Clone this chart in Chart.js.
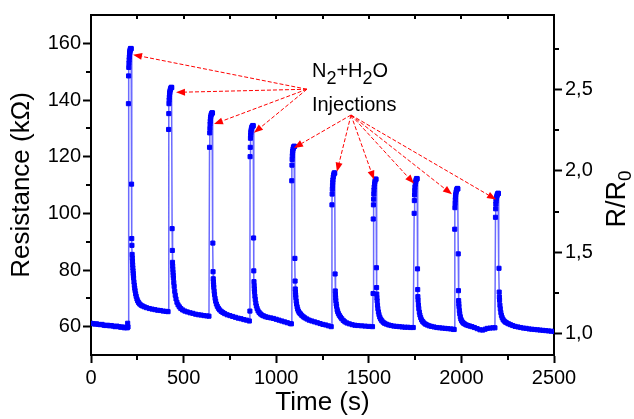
<!DOCTYPE html>
<html><head><meta charset="utf-8">
<script src="https://cdn.jsdelivr.net/npm/chart.js@4/dist/chart.umd.min.js"></script>
<style>html,body{margin:0;padding:0;background:#fff}#c{display:block}</style>
</head><body>
<canvas id="c" width="634" height="419"></canvas>
<script>
// ---- data: [time (s), resistance (kOhm)] ----
const cycle0 = [[0,61.2],[10,61.1],[20,60.9],[30,61.0],[40,60.8],[50,60.7],[60,60.8],[70,60.5],[80,60.4],[90,60.5],[100,60.3],[110,60.4],[120,60.2],[130,60.0],[140,60.2],[150,60.0],[160,59.8],[170,59.9],[180,59.6],[190,59.7],[196,59.6],[198,61.2],[200,59.9]];
const cycle1 = [[202,138.7],[203,148.5],[204,151.5],[205,153.0],[206,154.2],[207,155.2],[208,156.0],[209,156.6],[210,157.1],[211,157.5],[212,157.8],[213,158.0],[214,158.1],[215,158.2],[217,158.1],
  [219,110.3],[220,91.1],[221,88.7],[222,85.5],[223,84.2],[224,83.0],[225,81.8],[226,80.7],[227,79.7],[228,78.8],[229,78.0],[230,77.2],[232,75.8],[234,74.6],[236,73.6],[238,72.7],[241,71.6],[244,70.7],[248,69.8],[252,69.1],[257,68.5],[263,68.0],[270,67.6],[278,67.3],[288,67.0],[300,66.7],[315,66.4],[330,66.2],[345,66.0],[360,65.8],[375,65.7],[390,65.5],[405,65.4],[416,65.3]];
const cycle2 = [[419,129.6],[420,135.2],[421,138.7],[422,140.0],[423,141.0],[424,141.8],[425,142.5],[426,143.0],[428,143.6],[430,144.0],[432,144.3],[434,144.5],[436,144.4],
  [438,94.6],[439,86.9],[440,82.7],[441,81.4],[442,80.2],[443,79.1],[444,78.1],[445,77.2],[447,75.6],[449,74.2],[452,72.5],[455,71.1],[459,69.8],[464,68.6],[470,67.7],[477,67.0],[485,66.4],[495,65.9],[507,65.5],[520,65.2],[535,64.9],[550,64.7],[565,64.4],[580,64.2],[595,64.1],[610,63.9],[625,63.8],[637,63.7]];
const cycle3 = [[640,123.3],[641,128.4],[642,130.0],[643,131.5],[644,132.5],[645,133.3],[646,134.0],[648,134.6],[650,135.0],[652,135.3],[654,135.5],[656,135.4],
  [658,89.5],[659,79.4],[660,76.9],[661,75.8],[662,74.8],[663,73.9],[665,72.5],[667,71.3],[670,70.0],[673,69.0],[677,68.0],[682,67.2],[688,66.5],[695,65.9],[703,65.4],[712,65.0],[722,64.6],[735,64.2],[750,63.9],[765,63.6],[780,63.3],[795,63.0],[810,62.8],[825,62.5],[840,62.3],[855,62.0]];
const cycle4 = [[858,65.5],[859,120.0],[860,123.3],[861,126.5],[862,127.6],[863,128.5],[864,129.2],[866,129.8],[868,130.3],[870,130.6],[872,130.8],[874,131.0],[876,130.9],
  [878,91.3],[879,79.7],[880,75.9],[881,74.5],[882,73.3],[883,72.3],[885,70.8],[887,69.6],[890,68.3],[893,67.3],[897,66.4],[902,65.6],[908,65.0],[915,64.5],[923,64.1],[932,63.8],[943,63.5],[955,63.3],[970,63.1],[985,62.9],[1000,62.6],[1015,62.3],[1030,62.0],[1045,61.7],[1060,61.4],[1075,61.1]];
const cycle5 = [[1082,61.0],[1084,111.5],[1085,117.0],[1086,119.0],[1087,120.3],[1088,121.3],[1089,122.0],[1091,122.7],[1093,123.2],[1095,123.5],[1097,123.7],[1099,123.6],
  [1101,84.1],[1102,76.1],[1103,73.3],[1104,72.2],[1105,71.2],[1106,70.3],[1108,69.0],[1110,68.0],[1113,67.0],[1116,66.2],[1120,65.5],[1125,64.9],[1131,64.5],[1138,64.0],[1146,63.5],[1155,63.1],[1166,62.7],[1178,62.3],[1192,62.0],[1207,61.7],[1222,61.4],[1237,61.1],[1252,60.8],[1267,60.6],[1282,60.3],[1297,60.0]];
const cycle6 = [[1301,103.0],[1302,106.8],[1303,108.5],[1304,109.8],[1305,110.9],[1306,111.8],[1308,112.8],[1310,113.5],[1312,114.0],[1314,114.3],[1316,114.2],
  [1318,78.6],[1319,72.6],[1320,71.3],[1321,70.2],[1322,69.2],[1324,68.0],[1326,67.2],[1329,66.0],[1332,65.3],[1336,64.6],[1341,64.0],[1347,63.4],[1354,62.8],[1362,62.2],[1371,61.7],[1382,61.3],[1395,61.0],[1410,60.7],[1425,60.5],[1440,60.4],[1460,60.3],[1480,60.2],[1500,60.1],[1520,60.0]];
const cycle7 = [[1523,71.7],[1524,98.0],[1525,103.0],[1526,105.0],[1527,106.8],[1528,108.2],[1529,109.3],[1531,110.4],[1533,111.2],[1535,111.8],[1537,112.1],[1539,112.0],
  [1541,80.8],[1542,73.8],[1543,71.5],[1544,70.2],[1545,69.1],[1547,67.6],[1549,66.4],[1552,65.2],[1555,64.3],[1559,63.4],[1564,62.7],[1570,62.1],[1577,61.6],[1585,61.2],[1595,60.9],[1607,60.6],[1620,60.4],[1635,60.2],[1650,60.1],[1665,60.0],[1680,59.9],[1695,59.8],[1710,59.8],[1725,59.7],[1740,59.7]];
const cycle8 = [[1745,100.0],[1746,104.5],[1747,106.5],[1748,108.0],[1749,109.2],[1751,110.3],[1753,111.1],[1755,111.7],[1757,112.1],[1759,112.3],[1761,112.2],
  [1763,80.4],[1764,73.1],[1765,70.6],[1766,69.3],[1768,67.7],[1770,66.4],[1773,65.1],[1776,64.1],[1780,63.2],[1785,62.4],[1791,61.8],[1798,61.3],[1806,60.9],[1815,60.6],[1826,60.3],[1838,60.1],[1852,59.9],[1867,59.7],[1882,59.6],[1897,59.5],[1912,59.4],[1927,59.3],[1942,59.2],[1955,59.1],[1961,59.0]];
const cycle9 = [[1964,94.4],[1965,102.0],[1966,103.5],[1967,104.8],[1968,105.8],[1969,106.6],[1971,107.4],[1973,108.0],[1975,108.4],[1977,108.7],[1979,108.8],[1981,108.6],
  [1983,85.7],[1984,72.7],[1985,69.2],[1986,68.1],[1987,67.1],[1989,65.7],[1991,64.6],[1994,63.5],[1997,62.7],[2001,62.1],[2006,61.6],[2012,61.2],[2019,60.9],[2027,60.6],[2036,60.4],[2046,60.2],[2057,60.0],[2070,59.7],[2085,59.3],[2100,58.9],[2115,58.8],[2128,59.1],[2140,59.4],[2155,59.5],[2170,59.6],[2181,59.6]];
const cycle10 = [[2184,98.6],[2185,101.6],[2186,103.3],[2187,104.3],[2188,105.0],[2190,105.7],[2192,106.2],[2194,106.6],[2196,106.9],[2198,107.1],[2200,107.0],
  [2203,80.6],[2204,72.2],[2205,70.5],[2206,69.3],[2208,67.6],[2210,66.3],[2213,65.0],[2216,64.0],[2220,63.2],[2225,62.5],[2231,62.0],[2238,61.6],[2246,61.3],[2255,61.0],[2265,60.7],[2277,60.4],[2290,60.1],[2305,59.9],[2320,59.7],[2335,59.5],[2350,59.4],[2365,59.2],[2380,59.1],[2395,59.0],[2410,58.9],[2425,58.8],[2440,58.7],[2455,58.6],[2470,58.5],[2485,58.4],[2500,58.3]];

// axis ranges, ticks, labels
const xMin = 0, xMax = 2500, yMin = 50, yMax = 170;
const R0 = 57.5; // baseline resistance used for R/R0
const xMajorTicks = [0, 500, 1000, 1500, 2000, 2500];
const xMinorTicks = [250, 750, 1250, 1750, 2250];
const yMajorTicks = [60, 80, 100, 120, 140, 160];
const yMinorTicks = [70, 90, 110, 130, 150];
const ratioMajorTicks = [1.0, 1.5, 2.0, 2.5];
const ratioMinorTicks = [1.25, 1.75, 2.25, 2.75];
const xTitle = 'Time (s)';
const yTitle = 'Resistance (kΩ)';
const y2TitleParts = [['R/R', false], ['0', true]];
const noteLine1Parts = [['N', false], ['2', true], ['+', false], ['H', false], ['2', true], ['O', false]];
const noteLine2 = 'Injections';
// annotation anchors in data units
const noteT = 1193, noteLine1R = 148.0, noteLine2R = 136.1;
const arrowOriginT = [1166, 1404];
const arrowOriginR = [143.8, 134.7];
const arrowTipT = [227, 459, 664, 880, 1096, 1328, 1528, 1744, 1949, 2187];
const arrowTipR = [156.0, 142.7, 131.5, 128.4, 123.1, 114.7, 111.9, 110.5, 106.7, 104.9];
const arrowFrom = [0, 0, 0, 0, 1, 1, 1, 1, 1, 1];

const FONT = "'Liberation Sans', Arial, Helvetica, sans-serif";
const allPoints = [cycle0, cycle1, cycle2, cycle3, cycle4, cycle5, cycle6, cycle7, cycle8, cycle9, cycle10]
  .flat().map(([t, r]) => ({x: t, y: r}));

function drawParts(ctx, parts, x, y, size, subSize, subShift) {
  let cx = x;
  parts.forEach(([txt, sub]) => {
    ctx.font = `${sub ? subSize : size}px ${FONT}`;
    ctx.fillText(txt, cx, y + (sub ? subShift : 0));
    cx += ctx.measureText(txt).width;
  });
}
function partsWidth(ctx, parts, size, subSize) {
  let w = 0;
  parts.forEach(([txt, sub]) => { ctx.font = `${sub ? subSize : size}px ${FONT}`; w += ctx.measureText(txt).width; });
  return w;
}

const frame = {
  id: 'frame',
  afterDraw(chart) {
    const {ctx, chartArea: a, scales: {x, y, y1}} = chart;
    ctx.save();
    ctx.strokeStyle = '#000'; ctx.lineWidth = 2; ctx.lineCap = 'butt';
    ctx.beginPath(); ctx.moveTo(a.left - 1, a.top); ctx.lineTo(a.right + 1, a.top); ctx.stroke();
    ctx.beginPath();
    xMinorTicks.forEach(v => { const p = Math.round(x.getPixelForValue(v)); ctx.moveTo(p, a.bottom); ctx.lineTo(p, a.bottom + 5); });
    xMajorTicks.concat(xMinorTicks).forEach(v => { if (v <= xMin || v >= xMax) return; const p = Math.round(x.getPixelForValue(v)); ctx.moveTo(p, a.top); ctx.lineTo(p, a.top + 4); });
    yMinorTicks.forEach(v => { const p = Math.round(y.getPixelForValue(v)); ctx.moveTo(a.left, p); ctx.lineTo(a.left - 5, p); });
    ratioMinorTicks.forEach(v => { const p = Math.round(y1.getPixelForValue(v)); ctx.moveTo(a.right, p); ctx.lineTo(a.right + 5, p); });
    ctx.stroke();
    // right axis title with subscript
    ctx.fillStyle = '#000'; ctx.textBaseline = 'alphabetic'; ctx.textAlign = 'left';
    const w = partsWidth(ctx, y2TitleParts, 27, 19);
    ctx.translate(625, (a.top + a.bottom) / 2 + 14);
    ctx.rotate(-Math.PI / 2);
    drawParts(ctx, y2TitleParts, -w / 2, 0, 27, 19, 6);
    ctx.restore();
  }
};

const notes = {
  id: 'notes',
  afterDatasetsDraw(chart) {
    const {ctx, scales: {x, y}} = chart;
    ctx.save();
    ctx.strokeStyle = '#ff0000'; ctx.fillStyle = '#ff0000'; ctx.lineWidth = 1;
    arrowTipT.forEach((t, i) => {
      const o = arrowFrom[i];
      const x0 = x.getPixelForValue(arrowOriginT[o]), y0 = y.getPixelForValue(arrowOriginR[o]);
      const x1 = x.getPixelForValue(t), yy1 = y.getPixelForValue(arrowTipR[i]);
      const ang = Math.atan2(yy1 - y0, x1 - x0);
      const L = 9, W = 3.5;
      const bx = x1 - L * Math.cos(ang), by = yy1 - L * Math.sin(ang);
      ctx.setLineDash([4, 2]);
      ctx.beginPath(); ctx.moveTo(x0, y0); ctx.lineTo(bx, by); ctx.stroke();
      ctx.setLineDash([]);
      ctx.beginPath();
      ctx.moveTo(x1, yy1);
      ctx.lineTo(bx - W * Math.sin(ang), by + W * Math.cos(ang));
      ctx.lineTo(bx + W * Math.sin(ang), by - W * Math.cos(ang));
      ctx.closePath(); ctx.fill();
    });
    ctx.fillStyle = '#000'; ctx.textBaseline = 'alphabetic'; ctx.textAlign = 'left';
    const tx = x.getPixelForValue(noteT);
    drawParts(ctx, noteLine1Parts, tx, y.getPixelForValue(noteLine1R), 20, 18, 7);
    ctx.font = `20px ${FONT}`;
    ctx.fillText(noteLine2, tx, y.getPixelForValue(noteLine2R));
    ctx.restore();
  }
};

const tickFont = {family: FONT, size: 20};
new Chart(document.getElementById('c'), {
  type: 'line',
  data: {
    datasets: [{
      data: allPoints,
      borderColor: 'rgba(70,70,255,0.8)',
      borderWidth: 1.5,
      pointStyle: 'rect',
      pointRadius: 2.9,
      pointBorderWidth: 1,
      pointBackgroundColor: '#0000ff',
      pointBorderColor: '#0000ff',
      tension: 0,
      yAxisID: 'y'
    }]
  },
  options: {
    responsive: false,
    animation: false,
    devicePixelRatio: 1,
    layout: {padding: {top: 12, left: 0, right: 0, bottom: 0}},
    plugins: {legend: {display: false}, tooltip: {enabled: false}},
    scales: {
      x: {
        type: 'linear', position: 'bottom', min: xMin, max: xMax,
        afterBuildTicks: s => { s.ticks = xMajorTicks.map(v => ({value: v})); },
        afterFit: s => { s.height = 64; },
        ticks: {font: tickFont, color: '#000', padding: 3, maxRotation: 0, autoSkip: false, callback: v => String(v)},
        grid: {drawOnChartArea: false, drawTicks: true, tickLength: 8, tickWidth: 2, tickColor: '#000'},
        border: {display: true, color: '#000', width: 2},
        title: {display: true, text: xTitle, color: '#000', font: {family: FONT, size: 26}, padding: {top: 0, bottom: 1}}
      },
      y: {
        type: 'linear', position: 'left', min: yMin, max: yMax,
        afterBuildTicks: s => { s.ticks = yMajorTicks.map(v => ({value: v})); },
        afterFit: s => { s.width = 91; },
        ticks: {font: tickFont, color: '#000', padding: 2, autoSkip: false, callback: v => String(v)},
        grid: {drawOnChartArea: false, drawTicks: true, tickLength: 8, tickWidth: 2, tickColor: '#000'},
        border: {display: true, color: '#000', width: 2},
        title: {display: true, text: yTitle, color: '#000', font: {family: FONT, size: 26}, padding: {top: 6, bottom: 0}}
      },
      y1: {
        type: 'linear', position: 'right', min: yMin / R0, max: yMax / R0,
        afterBuildTicks: s => { s.ticks = ratioMajorTicks.map(v => ({value: v})); },
        afterFit: s => { s.width = 80; },
        ticks: {font: tickFont, color: '#000', padding: 3, autoSkip: false, callback: v => v.toFixed(1).replace('.', ',')},
        grid: {drawOnChartArea: false, drawTicks: true, tickLength: 8, tickWidth: 2, tickColor: '#000'},
        border: {display: true, color: '#000', width: 2}
      }
    }
  },
  plugins: [notes, frame]
});
</script>
</body></html>
